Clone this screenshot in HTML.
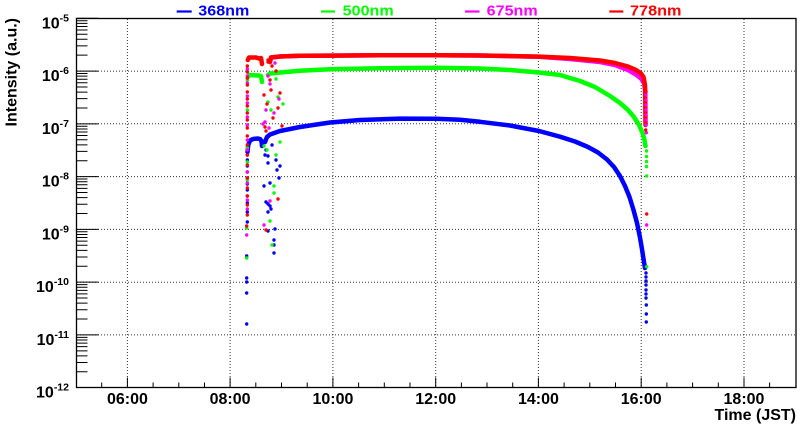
<!DOCTYPE html>
<html><head><meta charset="utf-8"><style>
html,body{margin:0;padding:0;background:#fff;}
svg{display:block;font-family:"Liberation Sans",Arial,sans-serif;font-weight:bold;}
</style></head><body>
<svg width="800" height="427" viewBox="0 0 800 427" xmlns="http://www.w3.org/2000/svg">
<rect width="800" height="427" fill="#fff"/>
<!-- grid -->
<g stroke="#333" stroke-width="1" stroke-dasharray="1 2" fill="none">
<path d="M127.4,19V387.7M230.1,19V387.7M332.9,19V387.7M435.7,19V387.7M538.4,19V387.7M641.2,19V387.7M744,19V387.7"/>
<path d="M77,71.1H796M77,123.8H796M77,176.6H796M77,229.4H796M77,282.2H796M77,334.9H796"/>
</g>
<!-- data -->
<g fill="none" stroke-linejoin="round" stroke-linecap="round" stroke-width="4.5">
<polyline stroke="#0000ff" points="247.5,152 248.2,145 250,140.5 253,139 258,138.5 260,139 261.5,141 262,146"/>
<polyline stroke="#0000ff" points="265,142 267,137 270,134.5 280,131 300,127 330,122.5 360,120 400,118.6 436,118.7 460,119.8 480,121.8 510,125.5 539,131 560,136.7 575,141.5 588,147 598,152.5 607,159.5 614,167 620,176 625,186 629.5,197 633.5,210 637,223 639.7,236 641.8,248 643.5,259 645,268"/>
<polyline stroke="#00ff00" points="248,77 249.5,75 259,75.5 261,76 262,82"/>
<polyline stroke="#00ff00" points="268,75 270,73.5 280,72.5 300,70.8 330,69.2 380,68.2 436,67.8 480,68.5 510,70 539,72.5 560,75 580,81 595,87 610,96 620,103 628,110 634,117 639,125 642.5,133 644.5,140 645.5,146"/>
<polyline stroke="#ff00ff" points="270,62 271,57.5 280,56.5 300,55.8 330,55.6 380,55.2 436,55.2 480,55.5 539,56.8 570,59 600,62 615,65 628,70 636,74.5 641,78.5 644,83 645.5,92"/>
<polyline stroke="#ff0000" points="247.8,60 249,57.5 256,57.5 259,58.5 261,58 262,64"/>
<polyline stroke="#ff0000" points="270,62 271,57.5 280,56.5 300,55.8 330,55.6 380,55.2 436,55.2 480,55.5 539,56.6 570,58 600,60.5 615,63 628,66.5 636,70 641,73.5 643.5,77 645,85 645.3,100 645.5,125"/>
</g>
<!-- scatter dots -->
<g fill="#0000ff">
<circle cx="247.3" cy="155" r="1.7"/><circle cx="247.3" cy="160" r="1.7"/><circle cx="247.3" cy="166" r="1.7"/><circle cx="247.3" cy="172" r="1.7"/><circle cx="247.3" cy="178" r="1.7"/><circle cx="247.3" cy="184" r="1.7"/><circle cx="247.3" cy="190" r="1.7"/><circle cx="247.3" cy="196" r="1.7"/><circle cx="247.3" cy="203" r="1.7"/><circle cx="247.3" cy="212" r="1.7"/><circle cx="247.3" cy="222" r="1.7"/><circle cx="246.7" cy="256" r="1.7"/><circle cx="246.7" cy="278" r="1.7"/><circle cx="246.7" cy="282" r="1.7"/><circle cx="246.7" cy="293" r="1.7"/><circle cx="246.7" cy="324" r="1.7"/>
<circle cx="264" cy="186" r="1.7"/><circle cx="266" cy="202" r="1.7"/><circle cx="268" cy="204" r="1.7"/><circle cx="270" cy="206" r="1.7"/><circle cx="271" cy="209" r="1.7"/><circle cx="268" cy="212" r="1.7"/><circle cx="275" cy="229" r="1.7"/><circle cx="268" cy="231" r="1.7"/><circle cx="274" cy="240" r="1.7"/><circle cx="274" cy="245" r="1.7"/><circle cx="274" cy="253" r="1.7"/><circle cx="266" cy="150" r="1.7"/><circle cx="268" cy="156" r="1.7"/><circle cx="272" cy="145" r="1.7"/><circle cx="276" cy="160" r="1.7"/><circle cx="280" cy="166" r="1.7"/><circle cx="265" cy="155" r="1.7"/><circle cx="268" cy="163" r="1.7"/><circle cx="277" cy="170" r="1.7"/><circle cx="279" cy="178" r="1.7"/><circle cx="270" cy="183" r="1.7"/>
<circle cx="646" cy="273" r="1.7"/><circle cx="646" cy="277" r="1.7"/><circle cx="646" cy="281" r="1.7"/><circle cx="646" cy="285" r="1.7"/><circle cx="646" cy="290" r="1.7"/><circle cx="646" cy="294" r="1.7"/><circle cx="646" cy="298" r="1.7"/><circle cx="646.3" cy="305" r="1.7"/><circle cx="646.3" cy="314" r="1.7"/><circle cx="646.3" cy="322" r="1.7"/>
</g>
<g fill="#00ff00">
<circle cx="247.3" cy="80" r="1.7"/><circle cx="247.3" cy="110" r="1.7"/><circle cx="247.3" cy="148" r="1.7"/><circle cx="247.3" cy="162" r="1.7"/><circle cx="247.3" cy="180" r="1.7"/><circle cx="246.7" cy="228" r="1.7"/><circle cx="246.7" cy="258" r="1.7"/>
<circle cx="264" cy="146" r="1.7"/><circle cx="268" cy="102" r="1.7"/><circle cx="271" cy="110" r="1.7"/><circle cx="276" cy="79" r="1.7"/><circle cx="278" cy="97" r="1.7"/><circle cx="280" cy="142" r="1.7"/><circle cx="283" cy="104" r="1.7"/><circle cx="274" cy="186" r="1.7"/><circle cx="274" cy="193" r="1.7"/><circle cx="270" cy="221" r="1.7"/><circle cx="276" cy="155" r="1.7"/><circle cx="272" cy="245" r="1.7"/><circle cx="267" cy="150" r="1.7"/>
<circle cx="646.5" cy="151" r="1.7"/><circle cx="646.5" cy="156.5" r="1.7"/><circle cx="646.5" cy="161.5" r="1.7"/><circle cx="646.5" cy="166.5" r="1.7"/><circle cx="646.7" cy="176" r="1.7"/><circle cx="646.7" cy="266.7" r="1.7"/>
</g>
<g fill="#ff00ff">
<circle cx="247.3" cy="69" r="1.7"/><circle cx="247.3" cy="76" r="1.7"/><circle cx="247.3" cy="83" r="1.7"/><circle cx="247.3" cy="96" r="1.7"/><circle cx="247.3" cy="103" r="1.7"/><circle cx="247.3" cy="117" r="1.7"/><circle cx="247.3" cy="125" r="1.7"/><circle cx="247.3" cy="140" r="1.7"/><circle cx="247.3" cy="150" r="1.7"/><circle cx="247.3" cy="172" r="1.7"/><circle cx="247.3" cy="183" r="1.7"/><circle cx="247.3" cy="200" r="1.7"/><circle cx="247.3" cy="209" r="1.7"/><circle cx="246.7" cy="235" r="1.7"/>
<circle cx="265" cy="122" r="1.7"/><circle cx="266" cy="110" r="1.7"/><circle cx="268" cy="76" r="1.7"/><circle cx="270" cy="84" r="1.7"/><circle cx="274" cy="113" r="1.7"/><circle cx="275" cy="63" r="1.7"/><circle cx="279" cy="99" r="1.7"/><circle cx="263" cy="124" r="1.7"/><circle cx="269" cy="128" r="1.7"/><circle cx="270" cy="201" r="1.7"/><circle cx="264" cy="225" r="1.7"/>
<circle cx="646" cy="95" r="1.7"/><circle cx="646" cy="100" r="1.7"/><circle cx="646" cy="105" r="1.7"/><circle cx="646" cy="110" r="1.7"/><circle cx="646" cy="115" r="1.7"/><circle cx="646" cy="120" r="1.7"/><circle cx="646" cy="125" r="1.7"/><circle cx="646.3" cy="132.7" r="1.7"/><circle cx="646.7" cy="225" r="1.7"/>
</g>
<g fill="#ff0000">
<circle cx="247.3" cy="66" r="1.7"/><circle cx="247.3" cy="72" r="1.7"/><circle cx="247.3" cy="78" r="1.7"/><circle cx="247.3" cy="85" r="1.7"/><circle cx="247.3" cy="92" r="1.7"/><circle cx="247.3" cy="99" r="1.7"/><circle cx="247.3" cy="106" r="1.7"/><circle cx="247.3" cy="113" r="1.7"/><circle cx="247.3" cy="120" r="1.7"/><circle cx="247.3" cy="128" r="1.7"/><circle cx="247.3" cy="136" r="1.7"/><circle cx="247.3" cy="145" r="1.7"/><circle cx="247.3" cy="155" r="1.7"/><circle cx="247.3" cy="165" r="1.7"/><circle cx="247.3" cy="178" r="1.7"/><circle cx="247.3" cy="188" r="1.7"/><circle cx="247.3" cy="196" r="1.7"/><circle cx="247.3" cy="205" r="1.7"/><circle cx="247.3" cy="215" r="1.7"/><circle cx="246.7" cy="226" r="1.7"/>
<circle cx="264" cy="95" r="1.7"/><circle cx="265" cy="127" r="1.7"/><circle cx="266" cy="131" r="1.7"/><circle cx="268" cy="60" r="1.7"/><circle cx="270" cy="80" r="1.7"/><circle cx="271" cy="90" r="1.7"/><circle cx="272" cy="66" r="1.7"/><circle cx="273" cy="118" r="1.7"/><circle cx="276" cy="71" r="1.7"/><circle cx="278" cy="108" r="1.7"/><circle cx="280" cy="93" r="1.7"/><circle cx="282" cy="126" r="1.7"/><circle cx="267" cy="104" r="1.7"/><circle cx="266" cy="230" r="1.7"/><circle cx="278" cy="199" r="1.7"/><circle cx="268" cy="62" r="1.7"/>
<circle cx="645.7" cy="130" r="1.7"/><circle cx="646.7" cy="214" r="1.7"/>
</g>
<!-- frame -->
<rect x="76.5" y="18.5" width="719.5" height="369" fill="none" stroke="#000" stroke-width="1.3"/>
<!-- y ticks -->
<g stroke="#000" stroke-width="1" fill="none">
<path d="M76.5,18.3H98.5M76.5,71.07H98.5M76.5,123.84H98.5M76.5,176.61H98.5M76.5,229.38H98.5M76.5,282.16H98.5M76.5,334.93H98.5"/>
<path d="M76.5,371.81h11M76.5,362.52h11M76.5,355.93h11M76.5,350.82h11M76.5,346.64h11M76.5,343.10h11M76.5,340.04h11M76.5,337.34h11
M76.5,319.04h11M76.5,309.75h11M76.5,303.16h11M76.5,298.05h11M76.5,293.87h11M76.5,290.33h11M76.5,287.27h11M76.5,284.57h11
M76.5,266.27h11M76.5,256.98h11M76.5,250.39h11M76.5,245.28h11M76.5,241.10h11M76.5,237.56h11M76.5,234.50h11M76.5,231.80h11
M76.5,213.49h11M76.5,204.20h11M76.5,197.61h11M76.5,192.50h11M76.5,188.32h11M76.5,184.78h11M76.5,181.72h11M76.5,179.02h11
M76.5,160.72h11M76.5,151.43h11M76.5,144.84h11M76.5,139.73h11M76.5,135.55h11M76.5,132.01h11M76.5,128.95h11M76.5,126.25h11
M76.5,107.95h11M76.5,98.66h11M76.5,92.07h11M76.5,86.96h11M76.5,82.78h11M76.5,79.24h11M76.5,76.18h11M76.5,73.48h11
M76.5,55.18h11M76.5,45.89h11M76.5,39.30h11M76.5,34.19h11M76.5,30.01h11M76.5,26.47h11M76.5,23.41h11M76.5,20.71h11"/>
<!-- x ticks -->
<path d="M127.4,387.5v-10M230.1,387.5v-10M332.9,387.5v-10M435.7,387.5v-10M538.4,387.5v-10M641.2,387.5v-10M744,387.5v-10"/>
<path d="M101.7,387.5v-5M153.1,387.5v-5M178.8,387.5v-5M204.5,387.5v-5M255.8,387.5v-5M281.5,387.5v-5M307.2,387.5v-5M358.6,387.5v-5M384.3,387.5v-5M410,387.5v-5M461.4,387.5v-5M487,387.5v-5M512.7,387.5v-5M564.1,387.5v-5M589.8,387.5v-5M615.5,387.5v-5M666.9,387.5v-5M692.6,387.5v-5M718.3,387.5v-5M769.6,387.5v-5"/>
</g>
<!-- y labels -->
<g font-size="16" fill="#000" text-anchor="end">
<text x="69" y="28.3">10<tspan font-size="10.5" dy="-7">-5</tspan></text>
<text x="69" y="81.1">10<tspan font-size="10.5" dy="-7">-6</tspan></text>
<text x="69" y="133.8">10<tspan font-size="10.5" dy="-7">-7</tspan></text>
<text x="69" y="186.6">10<tspan font-size="10.5" dy="-7">-8</tspan></text>
<text x="69" y="239.4">10<tspan font-size="10.5" dy="-7">-9</tspan></text>
<text x="69" y="292.2">10<tspan font-size="10.5" dy="-7">-10</tspan></text>
<text x="69" y="344.9">10<tspan font-size="10.5" dy="-7">-11</tspan></text>
<text x="69" y="397.7">10<tspan font-size="10.5" dy="-7">-12</tspan></text>
</g>
<!-- x labels -->
<g font-size="16" fill="#000" text-anchor="middle">
<text x="127.4" y="404">06:00</text>
<text x="230.1" y="404">08:00</text>
<text x="332.9" y="404">10:00</text>
<text x="435.7" y="404">12:00</text>
<text x="538.4" y="404">14:00</text>
<text x="641.2" y="404">16:00</text>
<text x="744" y="404">18:00</text>
</g>
<text x="796" y="420" font-size="16" text-anchor="end" fill="#000">Time (JST)</text>
<text transform="translate(16.5,18) rotate(-90)" font-size="16" text-anchor="end" fill="#000">Intensity (a.u.)</text>
<!-- legend -->
<g stroke-width="2.2">
<line x1="176.7" y1="11.5" x2="191.7" y2="11.5" stroke="#0000ff"/>
<line x1="321" y1="11.5" x2="335" y2="11.5" stroke="#00ff00"/>
<line x1="465" y1="11.5" x2="479.5" y2="11.5" stroke="#ff00ff"/>
<line x1="609.3" y1="11.5" x2="623.3" y2="11.5" stroke="#ff0000"/>
</g>
<g font-size="15">
<text x="198.3" y="15.5" fill="#0000ff" textLength="51" lengthAdjust="spacingAndGlyphs">368nm</text>
<text x="342.7" y="15.5" fill="#00ff00" textLength="51" lengthAdjust="spacingAndGlyphs">500nm</text>
<text x="486.7" y="15.5" fill="#ff00ff" textLength="51" lengthAdjust="spacingAndGlyphs">675nm</text>
<text x="630" y="15.5" fill="#ff0000" textLength="51.5" lengthAdjust="spacingAndGlyphs">778nm</text>
</g>
</svg>
</body></html>
